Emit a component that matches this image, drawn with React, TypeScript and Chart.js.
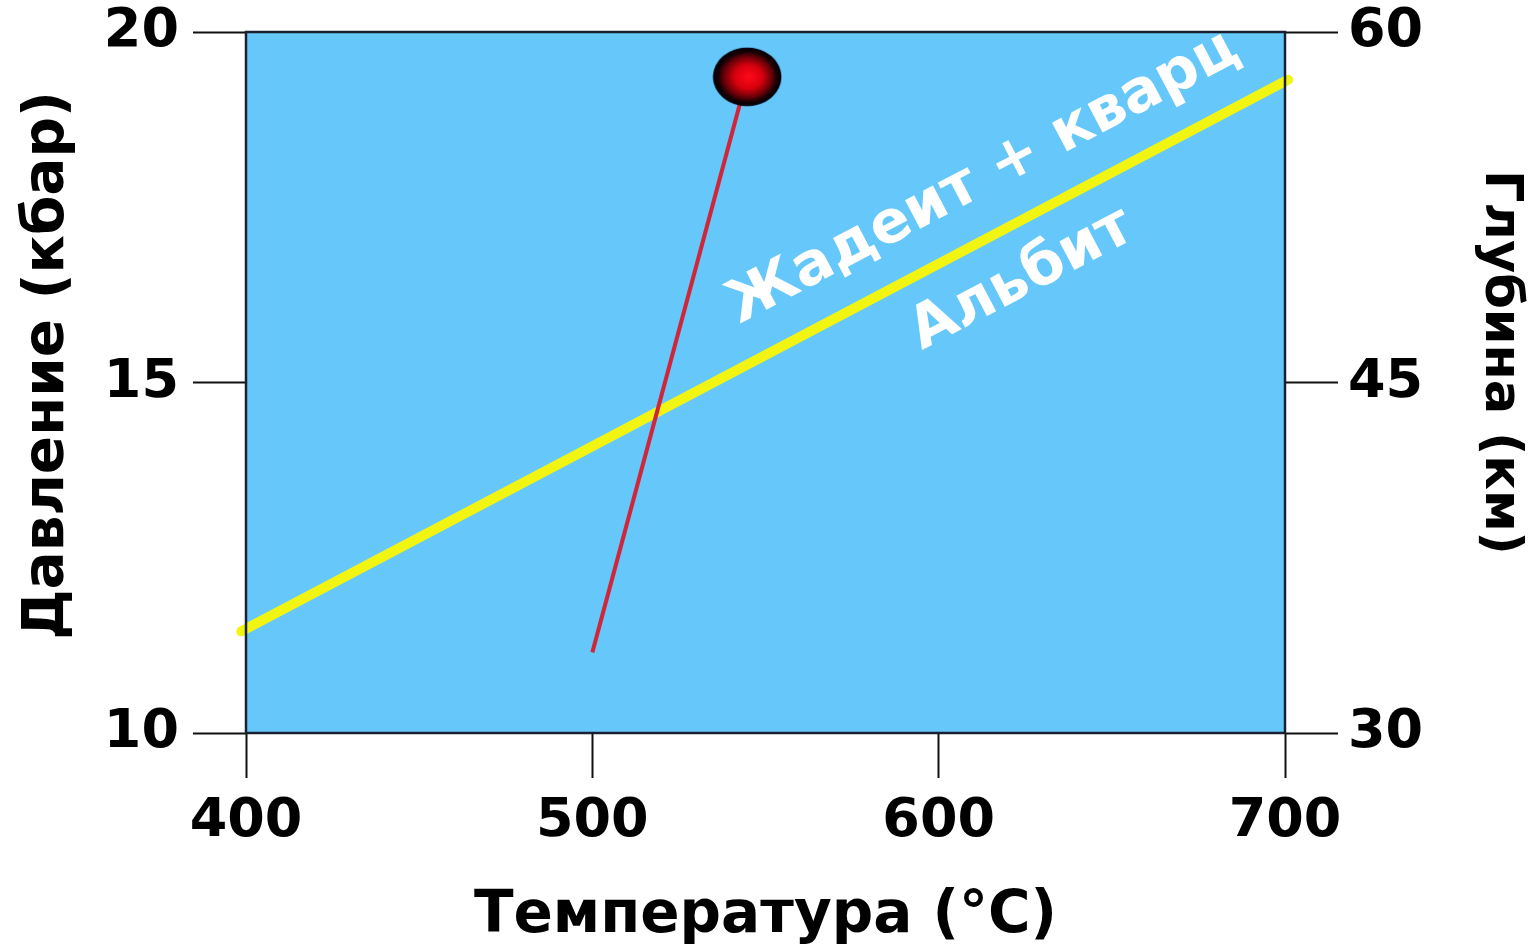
import { useEffect, useRef } from "react";
import { Chart, registerables } from "chart.js";

Chart.register(...registerables);

// ---- data ----
const temperatureTicks = [400, 500, 600, 700];
const pressureTicks = [10, 15, 20];
const depthTicks = [30, 45, 60];

// Jadeite + quartz = Albite reaction boundary (T °C, P kbar)
const reactionLine = [
  { x: 398.6, y: 11.45 },
  { x: 700.9, y: 19.32 },
];
// P-T path ending at the peak point
const ptPath = [
  { x: 500, y: 11.15 },
  { x: 544.7, y: 19.36 },
];
const peakPoint = [{ x: 544.7, y: 19.36 }];

const fieldLabels = ["Жадеит + кварц", "Альбит"];
const fieldLabelPos = [
  { x: 613.0, y: 17.92 },
  { x: 624.1, y: 16.46 },
];

const xTitle = "Температура (°C)";
const yTitle = "Давление (кбар)";
const y2Title = "Глубина (км)";

const FONT = "'DejaVu Sans', Verdana, sans-serif";

function makeDot(): HTMLCanvasElement {
  const w = 70;
  const h = 60;
  const c = document.createElement("canvas");
  c.width = w;
  c.height = h;
  const g = c.getContext("2d")!;
  g.save();
  g.translate(w / 2, h / 2);
  g.scale(1, h / w);
  const r = w / 2 - 0.5;
  const grad = g.createRadialGradient(2, 0, 0, 0, 0, r);
  grad.addColorStop(0, "#ff0a1a");
  grad.addColorStop(0.4, "#d8000e");
  grad.addColorStop(0.7, "#640008");
  grad.addColorStop(0.86, "#120004");
  grad.addColorStop(0.97, "#05000a");
  grad.addColorStop(1, "rgba(5,0,10,0.5)");
  g.fillStyle = grad;
  g.beginPath();
  g.arc(0, 0, r, 0, Math.PI * 2);
  g.fill();
  g.restore();
  return c;
}

const decorPlugin = {
  id: "decor",
  beforeDatasetsDraw(chart: any) {
    const { ctx, chartArea: a } = chart;
    ctx.save();
    ctx.fillStyle = "#66c8fa";
    ctx.fillRect(a.left, a.top, a.right - a.left, a.bottom - a.top);
    ctx.restore();
  },
  afterDatasetsDraw(chart: any) {
    const { ctx, chartArea: a } = chart;
    const xs = chart.scales.x;
    const ys = chart.scales.y;
    // plot frame
    ctx.save();
    ctx.strokeStyle = "#1a2030";
    ctx.lineWidth = 2.5;
    ctx.strokeRect(a.left, a.top, a.right - a.left, a.bottom - a.top);
    ctx.restore();

    // field labels along the reaction line
    const p1x = xs.getPixelForValue(reactionLine[0].x);
    const p1y = ys.getPixelForValue(reactionLine[0].y);
    const p2x = xs.getPixelForValue(reactionLine[1].x);
    const p2y = ys.getPixelForValue(reactionLine[1].y);
    const ang = Math.atan2(p2y - p1y, p2x - p1x);
    ctx.save();
    ctx.fillStyle = "#ffffff";
    ctx.font = `bold 59px ${FONT}`;
    ctx.textAlign = "center";
    ctx.textBaseline = "middle";
    fieldLabels.forEach((t, i) => {
      const px = xs.getPixelForValue(fieldLabelPos[i].x);
      const py = ys.getPixelForValue(fieldLabelPos[i].y);
      ctx.save();
      ctx.translate(px, py);
      ctx.rotate(ang);
      ctx.fillText(t, 0, 0);
      ctx.restore();
    });
    ctx.restore();
  },
  afterDraw(chart: any) {
    const { ctx, chartArea: a } = chart;
    const midX = (a.left + a.right) / 2;
    const midY = (a.top + a.bottom) / 2;
    ctx.save();
    ctx.fillStyle = "#000000";
    ctx.textAlign = "center";
    ctx.textBaseline = "middle";
    // bottom
    ctx.font = `bold 58px ${FONT}`;
    ctx.fillText(xTitle, midX, a.bottom + 184);
    // left
    ctx.font = `bold 56.5px ${FONT}`;
    ctx.save();
    ctx.translate(a.left - 198, midY - 17);
    ctx.rotate(-Math.PI / 2);
    ctx.fillText(yTitle, 0, 0);
    ctx.restore();
    // right
    ctx.font = `bold 51px ${FONT}`;
    ctx.save();
    ctx.translate(a.right + 214, midY - 20);
    ctx.rotate(Math.PI / 2);
    ctx.fillText(y2Title, 0, 0);
    ctx.restore();
    ctx.restore();
  },
};

export default function App() {
  const ref = useRef<HTMLCanvasElement | null>(null);

  useEffect(() => {
    if (!ref.current) return;
    const dot = makeDot();
    const xTickFont = { family: FONT, size: 54, weight: "bold" as const, lineHeight: 1 };
    const yTickFont = { family: FONT, size: 54, weight: "bold" as const, lineHeight: 0.6 };
    const chart = new Chart(ref.current, {
      type: "line",
      data: {
        datasets: [
          {
            type: "scatter",
            data: peakPoint,
            pointStyle: dot as any,
            pointRadius: 30,
            showLine: false,
            order: 0,
            clip: false as any,
          },
          {
            data: ptPath,
            borderColor: "#d0263a",
            borderWidth: 4,
            pointRadius: 0,
            order: 1,
            clip: false as any,
          },
          {
            data: reactionLine,
            borderColor: "#f2f512",
            borderWidth: 10,
            borderCapStyle: "round",
            pointRadius: 0,
            order: 2,
            clip: false as any,
          },
        ],
      },
      options: {
        animation: false,
        responsive: true,
        maintainAspectRatio: false,
        events: [],
        layout: { padding: { top: 32, left: 0, right: 0, bottom: 0 } },
        plugins: { legend: { display: false }, tooltip: { enabled: false } },
        scales: {
          x: {
            type: "linear",
            min: 400,
            max: 700,
            afterBuildTicks: (s: any) => {
              s.ticks = temperatureTicks.map((v) => ({ value: v }));
            },
            afterFit: (s: any) => {
              s.height = 214;
            },
            border: { display: false },
            grid: {
              drawOnChartArea: false,
              drawTicks: true,
              tickLength: 45,
              tickColor: "#111111",
              tickWidth: 2,
            },
            ticks: { color: "#000", font: xTickFont, padding: 17, maxRotation: 0 },
          },
          y: {
            type: "linear",
            position: "left",
            min: 10,
            max: 20,
            afterBuildTicks: (s: any) => {
              s.ticks = pressureTicks.map((v) => ({ value: v }));
            },
            afterFit: (s: any) => {
              s.width = 246;
            },
            border: { display: false },
            grid: {
              drawOnChartArea: false,
              drawTicks: true,
              tickLength: 53,
              tickColor: "#111111",
              tickWidth: 2,
            },
            ticks: { color: "#000", font: yTickFont, padding: 14 },
          },
          y2: {
            type: "linear",
            position: "right",
            min: 30,
            max: 60,
            afterBuildTicks: (s: any) => {
              s.ticks = depthTicks.map((v) => ({ value: v }));
            },
            afterFit: (s: any) => {
              s.width = 252;
            },
            border: { display: false },
            grid: {
              drawOnChartArea: false,
              drawTicks: true,
              tickLength: 53,
              tickColor: "#111111",
              tickWidth: 2,
            },
            ticks: { color: "#000", font: yTickFont, padding: 10 },
          },
        },
      },
      plugins: [decorPlugin],
    });
    return () => chart.destroy();
  }, []);

  return (
    <div style={{ position: "fixed", left: 0, top: 0, width: "100vw", height: "100vh" }}>
      <canvas ref={ref} />
    </div>
  );
}
